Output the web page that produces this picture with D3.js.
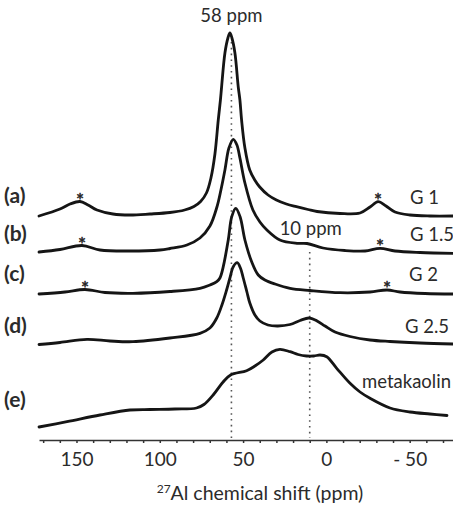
<!DOCTYPE html>
<html><head><meta charset="utf-8">
<script src="https://cdn.jsdelivr.net/npm/d3@7/dist/d3.min.js"></script>
<style>
html,body{margin:0;padding:0;background:#fff;}
svg{display:block;font-family:Lato,"Open Sans",sans-serif;}
</style></head>
<body><svg id="c" width="453" height="505"></svg>
<script>
// ---- data (ppm, intensity above each trace's own baseline) ----
const ppmA = [172.5,159.9,153.9,147.9,143.1,137.7,128.1,117.9,105.9,93.9,85.1,79.5,75.5,72.0,69.3,66.9,64.9,63.6,62.9,60.9,59.1,57.9,56.7,54.9,52.9,51.9,50.9,48.9,46.0,43.0,40.0,35.0,30.0,24.0,18.0,11.0,5.6,-8.2,-20.2,-26.2,-31.0,-35.8,-41.2,-50.2,-62.2,-76];
const intA = [0,7,12,14.5,11,6,2,1,2,3.5,6,9.5,14.5,23,38,62,96,116,129,163,178,183,178,163,129,116,96,68,46,36,29,21,16,12,9.3,6.5,4.5,2.5,3,9,14.3,10,4,1,0,0];

const ppmB = [172.5,159.9,146.7,135.9,117.9,99.9,93.9,83.7,75.9,69.9,65.7,63.3,60.9,58.5,55.9,53.7,51.9,48.9,44.1,39.9,35.7,27.9,17.6,11.6,2.0,-11.2,-23.2,-32.2,-41.2,-56.2,-76];
const intB = [0,2.5,6.5,2,1,2,3.5,7,14,26,45,62,82,104,112.7,107,94,69,42,30,22,12,8.7,8.5,4,1.5,1,3.7,1,-0.5,-1.3];

const ppmC = [172.5,156.9,144.9,132.9,116.1,93.9,75.9,69.9,65.8,63.9,61.9,58.9,56.8,54.4,51.8,48.9,44.8,40.9,36.9,30.8,21.8,9.8,-8.2,-26.2,-36.4,-44.2,-59.2,-76];
const intC = [0,2,4.5,1.5,0.7,2.5,5.7,9,12.3,16,27.3,54,77.3,85.7,77.3,54,32,19,14,10,5.7,3.5,1.3,2,4,2,0.5,0];

const ppmD = [172.5,159.9,143.7,129.9,116.1,93.9,75.9,69.9,65.8,62.7,59.9,57.9,55.9,53.5,51.6,49.9,47.7,45.9,42.9,39.9,35.1,29.1,21.8,15.8,10.4,5.6,0.8,-5.2,-14.2,-26.2,-38.2,-56.2,-76];
const intD = [-0.5,1.5,4.7,3,2.3,6,10.7,16,26,39,54,66,77.3,81.3,76,66,52,40.7,29,23,19,18,19.5,23.5,26,23,18,12,7.5,4,2.5,1,0];

const ppmE = [172.5,155.7,135.9,117.9,105.9,90.9,78.0,73.5,67.5,62.0,57.5,47.9,42.9,37.9,32.7,27.9,21.8,17.0,11.9,7.5,3.8,-0.2,-6.2,-14.2,-20.2,-26.2,-38.2,-50.2,-62.2,-72.4];
const intE = [0,5.3,12,17,17.5,18,19,22.5,33,45,52,56.3,61,67,75,77.7,75.3,72.5,71,71,72,70.3,58.7,43.7,35,28.7,19,15,13,11.5];

const traceNames = ["(a)","(b)","(c)","(d)","(e)"];
const sampleNames = ["G 1","G 1.5","G 2","G 2.5","metakaolin"];
const offsets = [224,188,146,96,13];
const starPpm = [[147.9,-31.0],[146.7,-32.2],[144.9,-36.4],[],[]];
const refPpm = [57,10];
const refLabels = ["58 ppm","10 ppm"];
const tickVals = [150,100,50,0,-50];
const tickLabels = ["150","100","50","0","- 50"];

// ---- scales ----
const svg = d3.select("#c");
const x = d3.scaleLinear().domain([172.5,-76]).range([39,453]);
const y = d3.scaleLinear().domain([0,400]).range([440,40]);
const ink = "#151515", txt = "#2b2b2b";

// reference dotted lines
const refTop = [398, 188];
refPpm.forEach((p,i)=>{
  svg.append("line").attr("x1",x(p)).attr("x2",x(p))
    .attr("y1",y(refTop[i])).attr("y2",y(2))
    .attr("stroke","#555").attr("stroke-width",1.6)
    .attr("stroke-dasharray","1.6,4.2");
});

// traces
const series = [[ppmA,intA],[ppmB,intB],[ppmC,intC],[ppmD,intD],[ppmE,intE]];
const line = d3.line().curve(d3.curveCatmullRom.alpha(0.5));
series.forEach(([pp,ii],k)=>{
  const pts = pp.map((p,j)=>[x(p), y(ii[j]+offsets[k])]);
  svg.append("path").attr("d",line(pts)).attr("fill","none")
    .attr("stroke",ink).attr("stroke-width",2.8).attr("stroke-linejoin","round").attr("stroke-linecap","round");
});

// spinning sideband stars
starPpm.forEach((arr,k)=>{
  const [pp,ii]=series[k];
  arr.forEach(p=>{
    const j = pp.indexOf(p);
    svg.append("text").attr("x",x(p)).attr("y",y(ii[j]+offsets[k])+5)
      .attr("text-anchor","middle").attr("font-size",19)
      .attr("fill","#222").attr("stroke","#222").attr("stroke-width",0.5).text("*");
  });
});

// trace letters
const letterY = [203,241,281,333,407];
traceNames.forEach((t,k)=>{
  svg.append("text").attr("x",4).attr("y",letterY[k]).attr("font-size",21)
    .attr("font-weight","bold").attr("fill",txt).text(t);
});
// sample labels
const sampleX = [410,410,409,405,362], sampleY = [204,241,281,333,388];
sampleNames.forEach((t,k)=>{
  svg.append("text").attr("x",sampleX[k]).attr("y",sampleY[k]).attr("font-size",18.5)
    .attr("fill",txt).text(t);
});

// ref labels
svg.append("text").attr("x",x(57)).attr("y",22).attr("text-anchor","middle")
  .attr("font-size",18.5).attr("fill",txt).text(refLabels[0]);
svg.append("text").attr("x",x(10)+1).attr("y",235).attr("text-anchor","middle")
  .attr("font-size",18.5).attr("fill",txt).text(refLabels[1]);

// axis
const axis = d3.axisBottom(x).tickValues(d3.range(170,-71,-10)).tickSize(3).tickSizeOuter(0)
  .tickFormat(d=>{const i=tickVals.indexOf(d);return i>=0?tickLabels[i]:"";});
const g = svg.append("g").attr("transform","translate(0,440)").call(axis);
g.select(".domain").attr("stroke","#333").attr("stroke-width",1.5);
g.selectAll(".tick line").attr("stroke","#333").attr("stroke-width",1.5);
g.selectAll(".tick text").attr("font-size",19).attr("fill",txt)
  .attr("font-family","Lato,'Open Sans',sans-serif").attr("y",13).attr("dy","0.71em");

// axis title
const t = svg.append("text").attr("x",260).attr("y",500).attr("text-anchor","middle")
  .attr("font-size",19.5).attr("fill",txt);
t.append("tspan").attr("font-size",12).attr("dy",-7).text("27");
t.append("tspan").attr("dy",7).text("Al chemical shift (ppm)");
</script></body></html>
